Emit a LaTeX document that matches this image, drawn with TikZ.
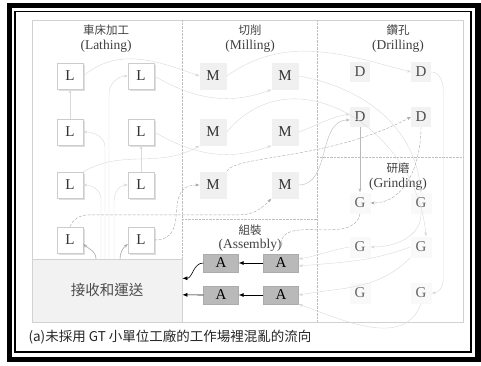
\documentclass[tikz,border=0pt]{standalone}
\usepackage{fontspec}
\setmainfont{Liberation Serif}
\newfontfamily\cjk{Noto Sans CJK TC}
\usetikzlibrary{arrows.meta,shadows}

\begin{document}
\begin{tikzpicture}[x=1pt,y=1pt,
	lbox/.style={draw=gray!40,fill=white,minimum size=26pt,inner sep=0pt,font=\fontsize{15}{15}\selectfont,text=black!80,drop shadow={opacity=0.25,shadow xshift=1.5pt,shadow yshift=-1.5pt}},
	mbox/.style={fill=gray!12,minimum size=27pt,inner sep=0pt,font=\fontsize{15}{15}\selectfont,text=black!80},
	dbox/.style={fill=gray!10,minimum size=20pt,inner sep=0pt,font=\fontsize{15}{15}\selectfont,text=black!70},
	gbox/.style={fill=gray!5,minimum size=21pt,inner sep=0pt,font=\fontsize{15}{15}\selectfont,text=black!60},
	abox/.style={fill=gray!55,draw=gray!65,minimum width=35pt,minimum height=18pt,inner sep=0pt,font=\fontsize{15}{15}\selectfont},
	head/.style={font=\cjk\fontsize{11.5}{11.5}\selectfont,text=black!75},
	subhead/.style={font=\fontsize{13.5}{13.5}\selectfont,text=black!75},
	zone/.style={gray!50,densely dotted},
	lightflow/.style={draw=gray!30,-{Stealth[length=4pt,width=3pt]}},
	midflow/.style={draw=gray!55,-{Stealth[length=4pt,width=3pt]}},
	darkflow/.style={draw=gray!70,dash pattern=on 3pt off 1.5pt,-{Stealth[length=4pt,width=3pt]}},
	recvflow/.style={draw=gray!70,semithick,-{Stealth[length=4pt,width=3pt]}},
	blackflow/.style={draw=black,semithick,-{Latex[length=5pt,width=4pt]}}]
	\useasboundingbox (0,0) rectangle (481,365);
	\draw[line width=5.5pt] (9.5,5.5) rectangle (478,359.5);
	\draw[line width=1.2pt] (15,13) rectangle (471,353.5);
	\draw[gray!35] (32,43) rectangle (463,345);
	\node[draw=gray!35,fill=gray!10,minimum width=150pt,minimum height=63pt,anchor=south west,inner sep=0pt,font=\cjk\fontsize{14.5}{14.5}\selectfont,text=black!70] (recv) at (32,43) {接收和運送};
	
	\draw[zone] (182,345) -- (182,106);
	\draw[zone] (317,345) -- (317,43);
	\draw[zone] (317,208) -- (463,208);
	\draw[zone] (182,146) -- (317,146);
	
	\node[head] (lathe) at (106,335) {車床加工};
	\node[subhead] (lathe-en) at (106,319) {(Lathing)};
	\node[head] (mill) at (250,335) {切削};
	\node[subhead] (mill-en) at (250,319) {(Milling)};
	\node[head] (drill) at (398,335) {鑽孔};
	\node[subhead] (drill-en) at (398,319) {(Drilling)};
	\node[head] (grind) at (398,197) {研磨};
	\node[subhead] (grind-en) at (398,181) {(Grinding)};
	\node[head] (assy) at (250,135) {組裝};
	\node[subhead] (assy-en) at (250,120) {(Assembly)};
	\node[anchor=west,font=\cjk\fontsize{13.5}{13.5}\selectfont,text=black!85] (caption) at (25,28) {(a)未採用 GT 小單位工廠的工作場裡混亂的流向};
	
	\foreach \r/\y in {1/289,2/233,3/180,4/125}
		{
		\node[lbox] (L\r1) at (70,\y) {L};
		\node[lbox] (L\r2) at (141,\y) {L};
		}
	\foreach \r/\y in {1/289,2/233,3/180}
		{
		\node[mbox] (M\r1) at (213,\y) {M};
		\node[mbox] (M\r2) at (285,\y) {M};
		}
	\foreach \r/\y in {1/293,2/248}
		{
		\node[dbox] (D\r1) at (360,\y) {D};
		\node[dbox] (D\r2) at (421,\y) {D};
		}
	\foreach \r/\y in {1/162,2/118,3/72}
		{
		\node[gbox] (G\r1) at (360,\y) {G};
		\node[gbox] (G\r2) at (421,\y) {G};
		}
	\node[abox] (A11) at (221,102) {A};
	\node[abox] (A12) at (281,102) {A};
	\node[abox] (A21) at (221,70) {A};
	\node[abox] (A22) at (281,70) {A};
	
	\coordinate (r1) at (101,106);
	\coordinate (r2) at (105,106);
	\coordinate (r3) at (109,106);
	\coordinate (r4) at (114,106);
	\coordinate (r5) at (96,106);
	\coordinate (r6) at (120,106);
	
	\draw[lightflow] (L11.east) to[out=40,in=160] (M11.west);
	\draw[lightflow] (L21.north) -- (L11.south);
	\draw[lightflow] (L32.north) -- (L22.south);
	\draw[lightflow] (r1) -- ++(0,60) to[out=90,in=0] (L31.east);
	\draw[lightflow] (r2) -- ++(0,112) to[out=90,in=0] (L21.east);
	\draw[lightflow] (r3) -- ++(0,165) to[out=90,in=180] (L12.west);
	\draw[lightflow] (r4) -- ++(0,58) to[out=90,in=180] (L32.west);
	\draw[lightflow] (L31.north east) to[out=30,in=210] (M21.south west);
	\draw[lightflow] (L22.east) to[out=-30,in=200] (M22.south west);
	\draw[lightflow] (L12.east) to[out=-30,in=200] (M12.south west);
	\draw[lightflow] (M11.east) to[out=35,in=165] (D12.west);
	\draw[lightflow] (M12.east) to[out=-10,in=95] (G12.north);
	\draw[lightflow] (M21.east) to[out=50,in=95,looseness=1.2] ([xshift=5pt]G22.north);
	\draw[lightflow] (M22.east) to[out=20,in=190] ([yshift=3pt]D21.west);
	\draw[lightflow] (D12.east) to[out=0,in=90] ++(12,-18) -- ++(0,-190) to[out=-90,in=0] (G32.east);
	\draw[lightflow] (G12.south) to[out=-90,in=0] (G21.east);
	\draw[lightflow] (G21.west) to[out=190,in=10] ([yshift=4pt]A12.east);
	\draw[lightflow] (G22.west) to[out=200,in=5] ([yshift=-3pt]A12.east);
	\draw[lightflow] (G22.south west) to[out=225,in=10] (A22.east);
	\draw[lightflow] (G32.south) to[out=-110,in=-20] (A22.south east);
	
	\draw[midflow] (D21.south) -- (G11.north);
	\draw[midflow] (M32.east) to[out=0,in=180] ([yshift=-3pt]D21.west);
	
	\draw[darkflow] (D22.south) to[out=-90,in=0] (G11.east);
	\draw[darkflow] (M31.north east) .. controls (235,210) and (330,205) .. (D22.west);
	\draw[darkflow] (L41.north) to[out=70,in=180] ++(20,12) -- ++(150,0) to[out=0,in=225] (M32.south west);
	\draw[darkflow] (L42.east) to[out=0,in=180,looseness=1.4] (M31.west);
	\draw[darkflow] (G11.south) to[out=-100,in=90] ([yshift=7pt]A12.north);
	\draw[recvflow] (r5) to[out=90,in=-40] ([yshift=-4pt]L41.east);
	\draw[recvflow] (r6) to[out=90,in=-140] ([yshift=-4pt]L42.west);
	
	\draw[blackflow] (A12.west) -- (A11.east);
	\draw[blackflow] (A22.west) -- (A21.east);
	\draw[blackflow] (A11.west) to[out=180,in=0] ([yshift=12pt]recv.east);
	\draw[blackflow] (A21.west) -- ([yshift=-4.5pt]recv.east);
\end{tikzpicture}
\end{document}
